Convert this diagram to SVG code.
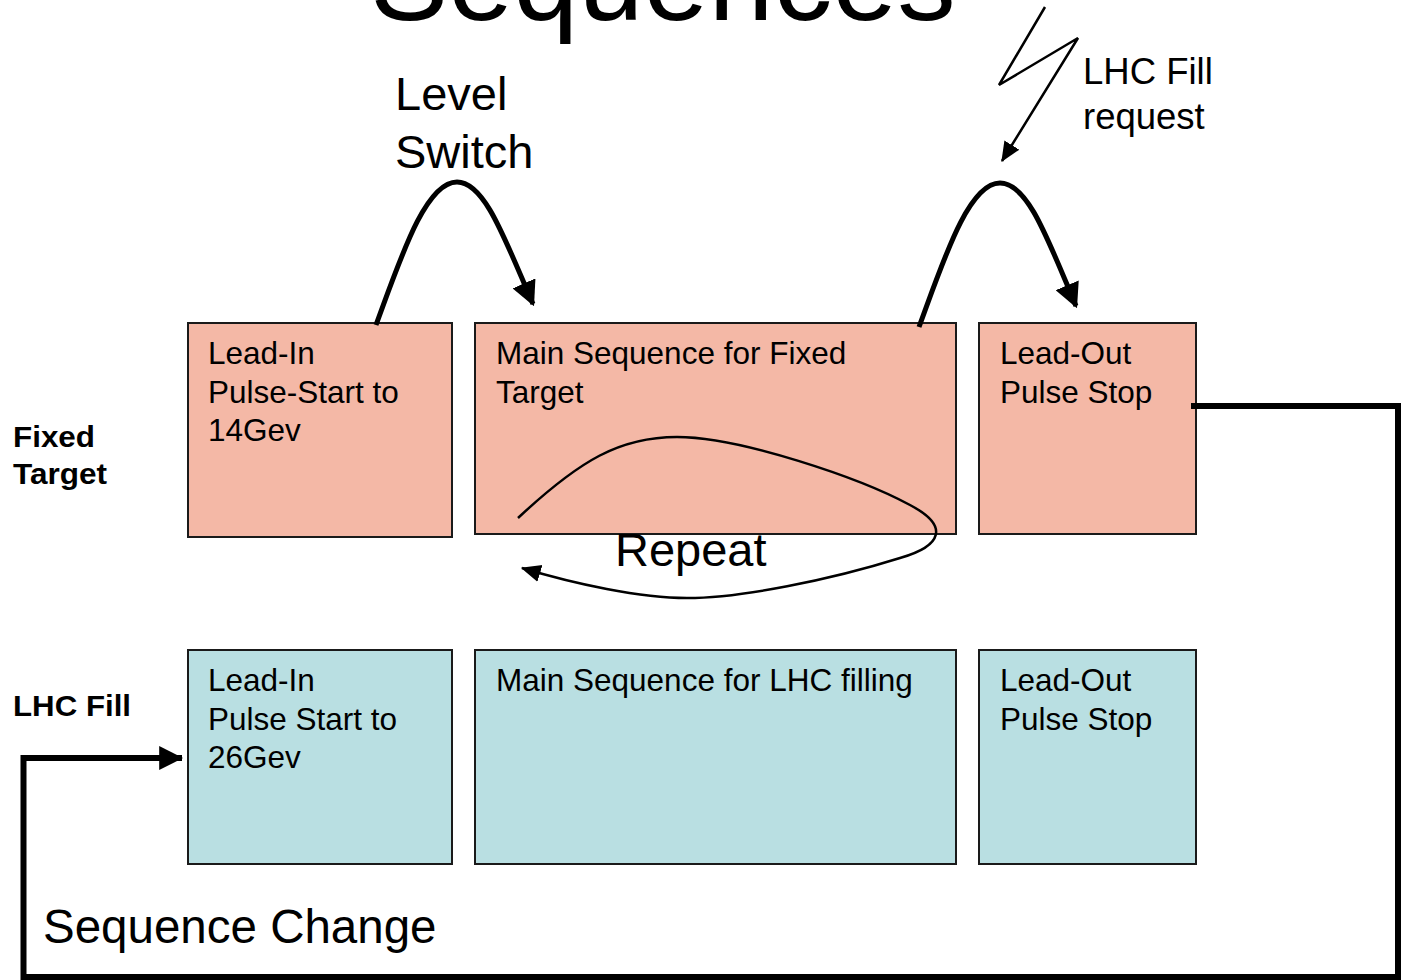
<svg xmlns="http://www.w3.org/2000/svg" width="1402" height="980" viewBox="0 0 1402 980">
  <defs>
    <style>
      text { font-family: "Liberation Sans", Arial, sans-serif; fill: #000; }
      .box-ft { fill: #F4B8A6; stroke: #1a1a1a; stroke-width: 2; }
      .box-lhc { fill: #B9DFE2; stroke: #1a1a1a; stroke-width: 2; }
      .lbl { font-size: 31.5px; }
      .row { font-size: 29px; font-weight: bold; }
      .thick { fill: none; stroke: #000; stroke-width: 5; }
      .thin { fill: none; stroke: #000; stroke-width: 2.5; }
      .route { fill: none; stroke: #000; stroke-width: 6; }
    </style>
    <marker id="headBig" markerWidth="5" markerHeight="5" refX="4.5" refY="2.5" orient="auto" markerUnits="strokeWidth">
      <path d="M0,0 L5,2.5 L0,5 Z" fill="#000"/>
    </marker>
    <marker id="headSmall" markerWidth="8" markerHeight="8" refX="7.5" refY="4" orient="auto" markerUnits="strokeWidth">
      <path d="M0,0.5 L8,4 L0,7.5 Z" fill="#000"/>
    </marker>
    <marker id="headRoute" markerWidth="4" markerHeight="4" refX="3.8" refY="2" orient="auto" markerUnits="strokeWidth">
      <path d="M0,0 L4,2 L0,4 Z" fill="#000"/>
    </marker>
  </defs>

  <rect width="1402" height="980" fill="#fff"/>

  <!-- title, partly above the top edge -->
  <text x="663" y="20" font-size="117" text-anchor="middle">Sequences</text>

  <!-- row labels -->
  <text class="row" x="13" y="447" textLength="82" lengthAdjust="spacingAndGlyphs">Fixed</text>
  <text class="row" x="13" y="484" textLength="94" lengthAdjust="spacingAndGlyphs">Target</text>
  <text class="row" x="13" y="716" textLength="118" lengthAdjust="spacingAndGlyphs">LHC Fill</text>

  <!-- Fixed Target row -->
  <g id="ft-lead-in">
    <rect class="box-ft" x="188" y="323" width="264" height="214"/>
    <text class="lbl" x="208" y="364">Lead-In</text>
    <text class="lbl" x="208" y="403">Pulse-Start to</text>
    <text class="lbl" x="208" y="441">14Gev</text>
  </g>
  <g id="ft-main">
    <rect class="box-ft" x="475" y="323" width="481" height="211"/>
    <text class="lbl" x="496" y="364">Main Sequence for Fixed</text>
    <text class="lbl" x="496" y="403">Target</text>
  </g>
  <g id="ft-lead-out">
    <rect class="box-ft" x="979" y="323" width="217" height="211"/>
    <text class="lbl" x="1000" y="364">Lead-Out</text>
    <text class="lbl" x="1000" y="403">Pulse Stop</text>
  </g>

  <!-- LHC Fill row -->
  <g id="lhc-lead-in">
    <rect class="box-lhc" x="188" y="650" width="264" height="214"/>
    <text class="lbl" x="208" y="691">Lead-In</text>
    <text class="lbl" x="208" y="730">Pulse Start to</text>
    <text class="lbl" x="208" y="768">26Gev</text>
  </g>
  <g id="lhc-main">
    <rect class="box-lhc" x="475" y="650" width="481" height="214"/>
    <text class="lbl" x="496" y="691">Main Sequence for LHC filling</text>
  </g>
  <g id="lhc-lead-out">
    <rect class="box-lhc" x="979" y="650" width="217" height="214"/>
    <text class="lbl" x="1000" y="691">Lead-Out</text>
    <text class="lbl" x="1000" y="730">Pulse Stop</text>
  </g>

  <!-- connectors -->
  <g id="connectors">
    <!-- level switch: lead-in to main -->
    <path class="thick" d="M376,325 C400,260 425,182 457,182 C485,182 505,240 533,304" marker-end="url(#headBig)"/>
    <!-- main to lead-out -->
    <path class="thick" d="M919,327 C943,262 968,183 1000,183 C1028,183 1048,240 1076,306" marker-end="url(#headBig)"/>
    <!-- LHC fill request bolt -->
    <path class="thin" d="M1045,7 L999,85 L1078,38 L1002,161" marker-end="url(#headSmall)"/>
    <!-- repeat loop -->
    <path class="thin" d="M518,518 C580,460 620,437 677,437 C740,437 860,478 910,505 C950,526 942,546 900,558 C830,580 740,598 687,598 C640,598 575,584 522,568" marker-end="url(#headSmall)"/>
    <!-- sequence change route -->
    <path class="route" d="M1191,406 L1398,406 L1398,977 L23.5,977 L23.5,758 L182,758" marker-end="url(#headRoute)"/>
  </g>

  <!-- free labels -->
  <text x="395" y="110" font-size="47">Level</text>
  <text x="395" y="168" font-size="47">Switch</text>
  <text x="1083" y="84" font-size="36.5">LHC Fill</text>
  <text x="1083" y="129" font-size="36.5">request</text>
  <text x="615" y="566" font-size="47">Repeat</text>
  <text x="43" y="943" font-size="47.5">Sequence Change</text>
</svg>
